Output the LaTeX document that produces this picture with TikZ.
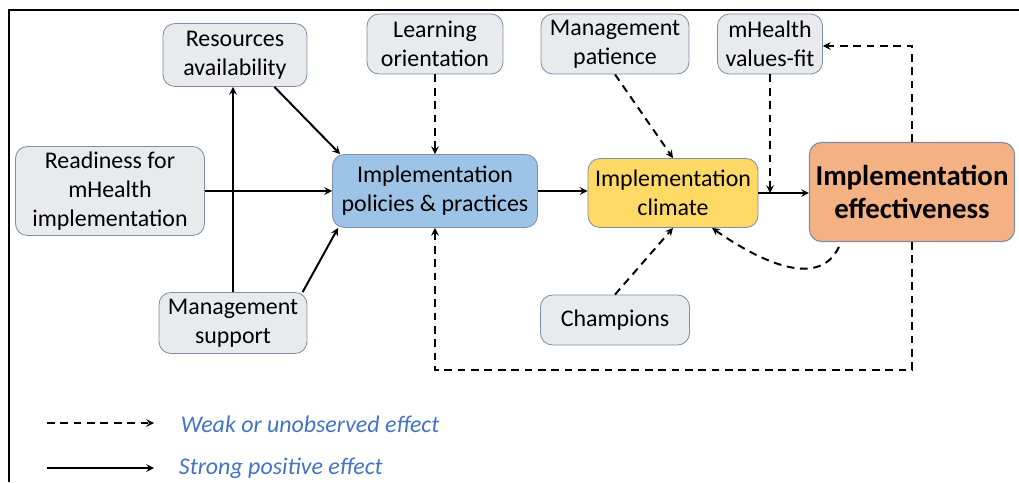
\documentclass[tikz,border=0pt]{standalone}
\usepackage{fontspec}
\setmainfont{Carlito}
\usepackage{tikz}
\usetikzlibrary{shapes.geometric, arrows}
\definecolor{boxgray}{HTML}{E9EAEC}
\definecolor{framegray}{HTML}{7E8FA8}
\definecolor{policyblue}{HTML}{9DC3E6}
\definecolor{climateyellow}{HTML}{FFD966}
\definecolor{effectorange}{HTML}{F4B183}
\definecolor{legendblue}{HTML}{4472C4}
\tikzstyle{factor} = [rectangle, rounded corners=0.3cm, text centered, align=center,
inner sep=0pt, draw=framegray, line width=0.6pt, fill=boxgray,
font=\fontsize{17}{20.5}\selectfont]
\tikzstyle{policy} = [factor, fill=policyblue]
\tikzstyle{climate} = [factor, fill=climateyellow]
\tikzstyle{outcome} = [factor, fill=effectorange, line width=0.8pt,
font=\fontsize{20.5}{24}\selectfont\bfseries]
\tikzstyle{legendtext} = [anchor=west, text=legendblue,
font=\fontsize{17}{20}\selectfont\itshape]
\tikzstyle{arrow} =
[line width=1.4pt,->,>=stealth]
\tikzstyle{weak} =
[arrow, dash pattern=on 5.5pt off 4pt]

\begin{document}
\begin{tikzpicture}[x=0.025cm, y=-0.025cm]
\useasboundingbox (0,0) rectangle (1019,482);
\draw[line width=1.4pt] (9,482) -- (9,10) -- (1019,10);

\node(resources)[factor, minimum width=3.6cm, minimum height=1.575cm] at (235,55) {Resources\\availability};
\node(learning)[factor, minimum width=3.4cm, minimum height=1.5cm] at (435,44) {Learning\\orientation};
\node(patience)[factor, minimum width=3.7cm, minimum height=1.5cm] at (615,44) {Management\\patience};
\node(values)[factor, minimum width=2.625cm, minimum height=1.5cm] at (770,44) {mHealth\\values-fit};
\node(readiness)[factor, minimum width=4.725cm, minimum height=2.225cm] at (110,191) {Readiness for\\mHealth\\implementation};
\node(policies)[policy, minimum width=5.125cm, minimum height=1.825cm] at (435,191) {Implementation\\policies \& practices};
\node(climate)[climate, minimum width=4.25cm, minimum height=1.725cm] at (673,193) {Implementation\\climate};
\node(effect)[outcome, minimum width=5.125cm, minimum height=2.475cm] at (912,192) {Implementation\\effectiveness};
\node(support)[factor, minimum width=3.7cm, minimum height=1.525cm] at (233,323) {Management\\support};
\node(champions)[factor, minimum width=3.725cm, minimum height=1.25cm] at (615,320) {Champions};
\coordinate(low) at (0,370);

\draw[arrow](readiness.east) -- (readiness.east -| policies.west);
\draw[arrow](support.north) -- (support.north |- resources.south);
\draw[arrow](resources.-39) -- ([xshift=0.2cm]policies.north west);
\draw[arrow]([xshift=-0.12cm]support.north east) -- ([xshift=0.15cm]policies.south west);
\draw[weak](learning.south) -- (policies.north);
\draw[arrow](policies.east) -- (policies.east -| climate.west);
\draw[weak](patience.south) -- (climate.north);
\draw[weak](champions.north) -- (climate.south);
\draw[arrow](climate.east) -- (climate.east -| effect.west);
\draw[weak](values.south) -- (values.south |- climate.east);
\draw[weak](effect.north) |- ([yshift=-0.05cm]values.east);
\draw[weak](effect.south) |- (low -| policies.south) -- (policies.south);
\draw[weak]([xshift=0.75cm, yshift=-0.12cm]effect.south west) to[out=-115, in=-35] ([xshift=0.975cm]climate.south);

% legend
\node(weaklabel)[legendtext] at (176,424) {Weak or unobserved effect};
\node(stronglabel)[legendtext] at (174,468) {Strong positive effect};
\coordinate(weakstart) at (47,423);
\coordinate(strongstart) at (47,468);
\draw[weak](weakstart) -- ([xshift=-0.55cm]weakstart -| weaklabel.west);
\draw[arrow](strongstart) -- ([xshift=-0.5cm]strongstart -| stronglabel.west);

\end{tikzpicture}
\end{document}
